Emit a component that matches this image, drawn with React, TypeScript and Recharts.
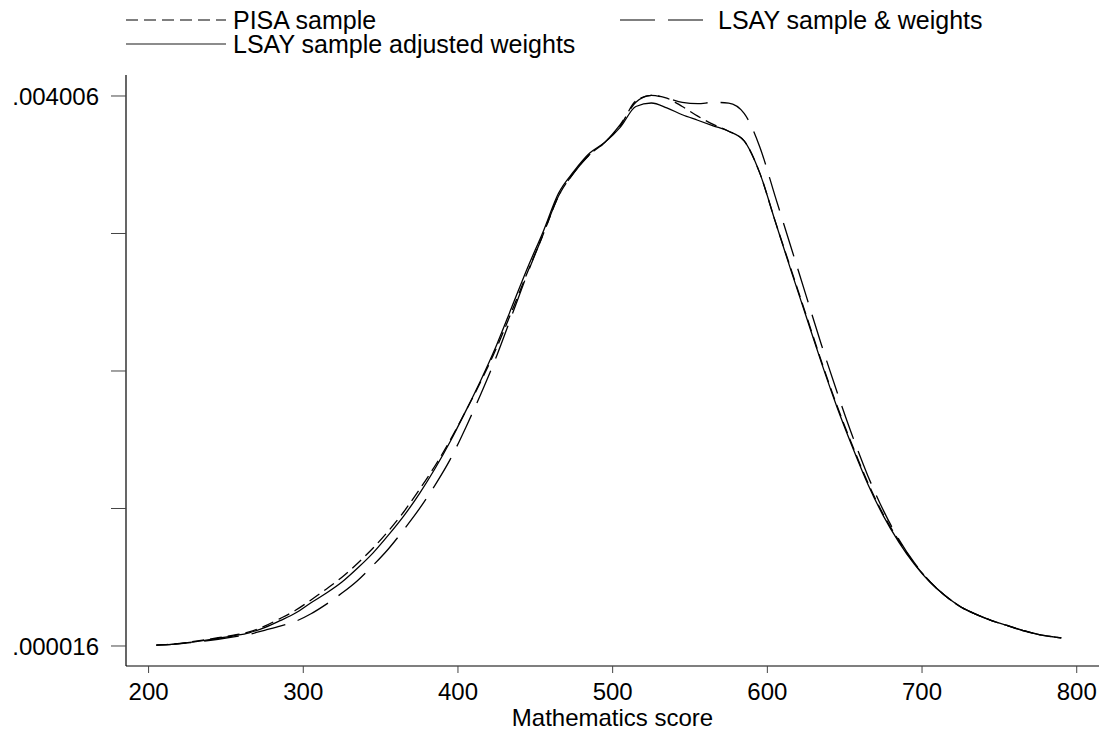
import React from 'react';
import { LineChart, Line, XAxis, YAxis, Legend } from 'recharts';

// kernel density estimates, values in thousandths (x 1e-3)
const scores = [
  205, 215, 225, 235, 245, 255, 265, 275, 285, 295, 305, 315, 325, 335, 345, 355, 365, 375, 385, 395,
  405, 415, 425, 435, 445, 455, 465, 475, 485, 495, 505, 515, 525, 535, 545, 555, 565, 575, 585, 595,
  605, 615, 625, 635, 645, 655, 665, 675, 685, 695, 705, 715, 725, 735, 745, 755, 765, 775, 785, 790,
];

const pisaSample = [
  0.023, 0.03, 0.042, 0.058, 0.076, 0.095, 0.118, 0.16, 0.215, 0.275, 0.35, 0.43, 0.515, 0.615, 0.725, 0.85, 0.99, 1.15, 1.32, 1.51,
  1.72, 1.94, 2.18, 2.45, 2.73, 3.0, 3.28, 3.45, 3.58, 3.67, 3.79, 3.97, 4.01, 3.99, 3.93, 3.86, 3.8, 3.75, 3.68, 3.45,
  3.1, 2.76, 2.42, 2.08, 1.76, 1.47, 1.2, 0.97, 0.78, 0.615, 0.485, 0.38, 0.3, 0.245, 0.2, 0.165, 0.13, 0.1, 0.082, 0.075,
];

const lsaySample = [
  0.023, 0.028, 0.038, 0.05, 0.065, 0.082, 0.1, 0.13, 0.16, 0.195, 0.25, 0.32, 0.4, 0.49, 0.6, 0.72, 0.86, 1.01, 1.18, 1.37,
  1.6, 1.85, 2.12, 2.42, 2.72, 3.0, 3.28, 3.45, 3.58, 3.67, 3.8, 3.96, 4.01, 3.99, 3.96, 3.95, 3.96, 3.955, 3.88, 3.64,
  3.28, 2.92, 2.56, 2.2, 1.86, 1.54, 1.25, 1.0, 0.79, 0.62, 0.485, 0.38, 0.3, 0.245, 0.2, 0.163, 0.128, 0.1, 0.082, 0.075,
];

const lsayAdjusted = [
  0.023, 0.028, 0.04, 0.055, 0.072, 0.09, 0.112, 0.15, 0.2, 0.255, 0.33, 0.4, 0.48, 0.58, 0.69, 0.82, 0.96, 1.12, 1.3, 1.5,
  1.72, 1.95, 2.2, 2.48, 2.76, 3.02, 3.3, 3.46, 3.59, 3.67, 3.78, 3.93, 3.955, 3.92, 3.87, 3.83, 3.79, 3.75, 3.68, 3.45,
  3.1, 2.75, 2.41, 2.07, 1.75, 1.46, 1.19, 0.96, 0.77, 0.61, 0.48, 0.38, 0.3, 0.245, 0.2, 0.165, 0.13, 0.1, 0.082, 0.075,
];

const xTicks = [200, 300, 400, 500, 600, 700, 800];
const yTicks = [0.016, 1.0135, 2.011, 3.0085, 4.006];
const yTickLabels = ['.000016', '', '', '', '.004006'];

const data = scores.map((s, i) => ({
  score: s,
  pisa: pisaSample[i],
  lsay: lsaySample[i],
  adjusted: lsayAdjusted[i],
}));

const FONT = '"Liberation Sans", Arial, Helvetica, sans-serif';

const renderLegend = () => (
  <svg width={1102} height={60} style={{ display: 'block' }}>
    <line x1={126} y1={20} x2={226} y2={20} stroke="#000" strokeWidth={1.2} strokeDasharray="12 6" />
    <text x={233} y={20} dominantBaseline="central" fontSize={25} fontFamily={FONT} fill="#000">
      PISA sample
    </text>
    <line x1={620} y1={20} x2={703} y2={20} stroke="#000" strokeWidth={1.2} strokeDasharray="35 13" />
    <text x={718} y={20} dominantBaseline="central" fontSize={25} fontFamily={FONT} fill="#000">
      LSAY sample &amp; weights
    </text>
    <line x1={126} y1={44} x2={226} y2={44} stroke="#666" strokeWidth={1.6} />
    <text x={233} y={44} dominantBaseline="central" fontSize={25} fontFamily={FONT} fill="#000">
      LSAY sample adjusted weights
    </text>
  </svg>
);

export default function App() {
  return (
    <div style={{ position: 'absolute', left: 0, top: 0, width: 1102, height: 731, background: '#fff' }}>
      <LineChart width={1102} height={731} data={data} margin={{ top: 75, right: 3, bottom: 0, left: 0 }}>
        <XAxis
          dataKey="score"
          type="number"
          domain={[185.4, 814.4]}
          allowDataOverflow
          ticks={xTicks}
          height={65}
          tickSize={7}
          tickMargin={10}
          axisLine={{ stroke: '#000', strokeWidth: 1.2 }}
          tickLine={{ stroke: '#444' }}
          tick={{ fill: '#000', fontSize: 24, fontFamily: FONT }}
          label={{ value: 'Mathematics score', position: 'insideBottom', offset: 5, fill: '#000', fontSize: 24, fontFamily: FONT }}
        />
        <YAxis
          type="number"
          domain={[-0.1291, 4.1583]}
          allowDataOverflow
          ticks={yTicks}
          width={126}
          tickSize={15}
          tickMargin={12}
          tickFormatter={(v: number, i: number) => yTickLabels[i]}
          axisLine={{ stroke: '#000', strokeWidth: 1.2 }}
          tickLine={{ stroke: '#444' }}
          tick={{ fill: '#000', fontSize: 24, fontFamily: FONT }}
        />
        <Legend
          layout="horizontal"
          verticalAlign="middle"
          align="center"
          wrapperStyle={{ top: 0, left: 0, width: 1102, height: 60 }}
          content={renderLegend}
        />
        <Line type="monotone" dataKey="pisa" name="PISA sample" stroke="#000" strokeWidth={1.3} strokeDasharray="12 6" dot={false} isAnimationActive={false} />
        <Line type="monotone" dataKey="lsay" name="LSAY sample & weights" stroke="#000" strokeWidth={1.3} strokeDasharray="35 13" dot={false} isAnimationActive={false} />
        <Line type="monotone" dataKey="adjusted" name="LSAY sample adjusted weights" stroke="#000" strokeWidth={1.3} dot={false} isAnimationActive={false} />
      </LineChart>
    </div>
  );
}
